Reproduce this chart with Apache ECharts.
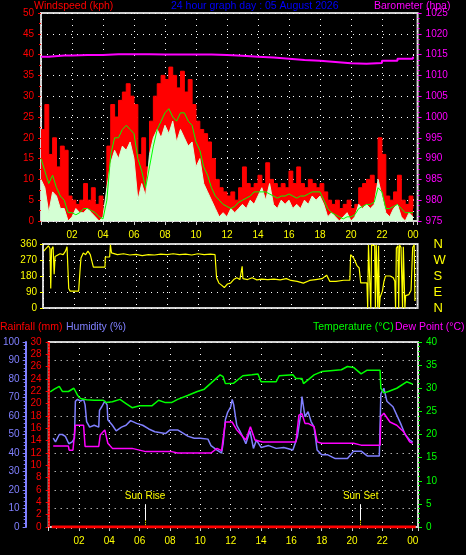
<!DOCTYPE html>
<html><head><meta charset="utf-8">
<script src="https://cdn.jsdelivr.net/npm/echarts@6/dist/echarts.min.js"></script>
<style>html,body{margin:0;padding:0;background:#000;}#c{width:466px;height:555px;}</style>
</head><body><div id="c"></div>
<script>
// ---- data ----
const hourLabels = ['02','04','06','08','10','12','14','16','18','20','22','00'];
// wind samples every 15 minutes from 00:00 to 24:00
const windGust = [22,28,16,20, 13,18,17,6, 5,4,5,9, 5,8,4,6, 3,18,28,25, 29,31,33,30, 28,16,20,13, 24,30,33,35,
  34,37,35,32, 36,31,34,28, 24,22,21,19, 15,10,8,7, 6,7,5,8, 13,9,8,9, 11,9,14,10, 9,8,9,8, 12,9,13,9,
  8,10,9,8, 9,7,5,4, 5,3,4,5, 3,4,8,9, 10,11,9,20, 16,6,5,7, 11,5,4,6, 3];
const windSpeed = [10,8,2,7, 6,3,3,0, 1,3,2,2, 3,2,1,0, 1,8,14,17, 15,18,17,19, 15,5,9,6, 16,20,22,20,
  23,21,24,19, 22,20,18,19, 13,15,9,7, 5,3,1,2, 1,3,2,3, 4,3,5,4, 6,8,5,9, 4,3,5,4, 5,3,4,3,
  5,4,6,5, 6,4,1,2, 1,0,1,2, 0,1,4,3, 4,3,4,10, 6,2,1,3, 4,1,0,2, 1];
const windAvg = [15,12,9,11, 8,6,5,2, 2,1.5,2,3, 3,2.5,2,1, 0.5,5,16,20, 20,22,23,22, 21,15,12,8, 13,18,22,24,
  26,27,25,24, 26,26,24,23, 19,17,13,11, 8,6,5,4, 3.5,3,3.5,4.5, 5,5.5,6,7, 7,7,7,6.5, 6,5.5,6,6, 6.5,6,5.5,6,
  6,6.5,7,7, 7,5,3,2, 1.5,1,0.5,1, 1,1.5,3,3.5, 4,4,4.5,8, 7,3,3,3.5, 4,3,2,2, 2];
const barometer = [[0,1014.5],[0.5,1014.8],[1.5,1014.8],[2,1014.9],[3,1014.9],[4,1015.1],[5,1015.1],[6,1015.1],
  [7,1015.0],[8,1015.0],[9,1015.0],[10,1015.0],[11,1014.9],[12,1014.7],[13,1014.5],[14,1014.3],[15,1014.0],
  [16,1013.7],[17,1013.5],[18,1013.2],[19,1012.9],[20,1012.8],[21,1013.0],[22,1013.5],[23,1014.0],[24,1014.5]];
const windDir = [[0.05,320],[0.2,335],[0.35,350],[0.45,335],[0.5,110],[0.55,330],[0.65,345],[0.72,190],[0.78,290],
  [0.9,300],[1.1,305],[1.3,300],[1.45,320],[1.55,345],[1.62,356],[1.66,110],[1.75,95],[2.0,95],[2.3,95],[2.38,200],
  [2.45,281],[2.6,310],[2.75,300],[2.9,320],[3.05,300],[3.15,310],[3.25,230],[3.6,230],[4.0,230],[4.02,287],[4.3,287],
  [4.35,356],[4.42,310],[4.8,300],[5.2,305],[5.6,298],[6.0,302],[6.4,295],[6.8,300],[7.2,298],[7.6,303],[8.0,300],
  [8.4,305],[8.8,300],[9.2,303],[9.6,298],[10.0,305],[10.4,300],[10.8,303],[11.1,300],[11.2,170],[11.35,140],
  [11.5,130],[11.7,115],[11.9,135],[12.1,140],[12.3,160],[12.5,170],[12.7,160],[12.85,234],[12.9,165],[13.2,160],
  [13.5,170],[13.8,158],[14.1,162],[14.5,160],[14.9,162],[15.3,158],[15.7,165],[16.0,155],[16.4,150],[16.8,140],
  [17.2,155],[17.6,160],[18.0,165],[18.3,185],[18.5,150],[18.9,150],[19.4,156],[19.8,156],[19.85,300],[20.05,280],
  [20.25,240],[20.4,225],[20.5,141],[20.9,141],[20.95,0],[21.0,355],[21.1,360],[21.15,0],[21.2,355],[21.3,360],
  [21.4,350],[21.45,0],[21.5,355],[21.6,5],[21.65,350],[21.7,0],[21.75,60],[21.9,95],[22.0,150],[22.1,180],
  [22.4,180],[22.6,170],[22.7,150],[22.75,0],[22.8,337],[22.9,350],[22.95,0],[23.0,355],[23.1,340],[23.2,0],
  [23.25,345],[23.35,0],[23.4,70],[23.6,75],[23.75,100],[23.85,340],[23.95,355],[24.0,40]];
const temperature = [[0.1,29.2],[0.37,29.8],[0.7,30.4],[0.9,29.3],[1.3,29.3],[1.66,30],[1.9,28.5],[2.1,27.8],
  [2.5,27.5],[3.0,27.4],[3.6,27.4],[3.8,26.9],[4.2,27.1],[4.7,27.6],[5.1,26.7],[5.5,25.8],[6.0,26.2],[6.8,26.2],
  [7.25,27.4],[7.7,26.9],[8.1,26.9],[8.5,27.6],[9.2,28.5],[9.8,29.3],[10.26,29.8],[10.7,31.1],[11.3,32.9],
  [11.5,32.5],[11.65,31.0],[12.2,31.1],[12.8,32.7],[13.4,32.9],[13.8,33.1],[14.0,31.4],[14.6,31.4],[15.0,31.4],
  [15.2,32.7],[16.1,32.9],[16.3,32.1],[16.7,32.1],[16.8,31],[17.1,31.8],[17.5,32.9],[18.0,33.6],[19.3,34],
  [19.7,34.7],[20.1,34.5],[20.6,33.1],[21.0,33.9],[21.85,33.9],[21.9,30],[22.1,29],[22.4,29.3],[22.95,30],
  [23.6,31.4],[24,30.9]];
const humidity = [[0.3,48],[0.45,46],[0.58,47],[0.7,50],[0.9,50],[1.1,49],[1.33,45],[1.45,44],[1.55,46],[1.7,48],
  [1.76,68],[1.9,69],[2.1,68],[2.3,69],[2.4,66],[2.5,57],[2.7,54],[3.0,55],[3.3,54],[3.35,63],[3.5,65],[3.7,68],
  [3.85,66],[3.9,58],[4.2,55],[4.45,52],[4.8,54],[5.1,55],[5.4,57.5],[5.8,56],[6.2,55],[6.6,53],[7.0,51.5],
  [7.4,51],[7.7,50.5],[8.0,52.5],[8.5,52.5],[8.8,51],[9.2,49],[9.6,48],[10.0,48],[10.5,47.5],[10.7,44],[11.1,41.6],
  [11.4,40],[11.5,45],[11.65,58],[11.8,62],[12.0,65],[12.1,69],[12.2,66],[12.4,55],[12.6,52],[12.8,48.8],[13.0,45],
  [13.27,52],[13.5,42.5],[13.7,47],[14.0,43],[14.5,44],[15.0,42.5],[15.5,43],[16.1,41.6],[16.4,48.8],[16.6,60],
  [16.7,70.5],[16.9,59.6],[17.1,62.3],[17.3,57],[17.5,54],[17.7,41.6],[18.0,39],[18.4,39],[18.9,37],[19.7,37],
  [20.1,41],[20.6,41],[21.0,38.4],[21.8,38.4],[21.9,72],[22.1,75],[22.3,68],[22.7,65],[23.2,56],[23.5,50],
  [23.8,47],[24,46]];
const dewPoint = [[0.3,17.5],[1.3,17.5],[1.35,16.6],[1.6,16.6],[1.76,22],[2.3,22],[2.4,17.4],[3.3,17.4],[3.4,19.9],
  [3.7,21],[3.9,18.1],[4.2,17],[5.5,17],[6.4,16.3],[8.1,16.3],[8.5,16],[10.7,16],[11.1,17],[11.4,16.5],[11.65,22.7],
  [12.1,22.7],[12.4,21],[12.8,19.5],[13.0,18.8],[13.3,21.7],[13.6,18.8],[14.1,18.4],[16.3,18.4],[16.5,24.2],
  [16.7,24.5],[16.9,22.4],[17.1,22.4],[17.5,21.7],[17.7,18.4],[18,18.1],[20.1,18.1],[20.6,17.7],[21.85,17.7],
  [21.9,23.9],[22.1,24.6],[22.5,22.7],[22.95,22],[23.4,20.6],[23.8,18.4],[24,18.1]];
const rainfall = [[0.2,0],[6,0],[12,0],[18,0],[24.2,0]];
const sunRise = 6.36, sunSet = 20.57;
const dirLabels = {0:'N',90:'E',180:'S',270:'W',360:'N'};

// ---- chart ----
const FONT = 'Liberation Sans';
const q = i => i * 0.25;
const pairs = arr => arr.map((v, i) => [q(i), v]);
const dots = {show:true, lineStyle:{color:'#ffffff', type:[1,5], width:1}};
const hourFmt = v => (v > 0 && v % 2 === 0 && v <= 24) ? hourLabels[v/2 - 1] : '';
const border = {show:true, borderColor:'#d0d0d0', borderWidth:2, backgroundColor:'#000'};

function xAxis(gi, showLabels, max) {
  return {type:'value', gridIndex:gi, min:0, max:max, interval:2,
    axisLine:{show:false},
    axisTick:{show:showLabels, length:4, lineStyle:{color:'#d0d0d0'}},
    minorTick:{show:showLabels, splitNumber:4, length:2, lineStyle:{color:'#d0d0d0'}},
    axisLabel:{show:showLabels, formatter:hourFmt, color:'#ffff00', fontFamily:FONT, fontSize:10, margin:9, hideOverlap:false},
    splitLine:dots};
}
const plain = v => String(v);

const chart = echarts.init(document.getElementById('c'), null, {renderer:'canvas'});
chart.setOption({
  backgroundColor:'#000',
  animation:false,
  grid:[
    Object.assign({left:41, top:13, width:376.6, height:208}, border),
    Object.assign({left:43, top:244, width:374.6, height:64}, border),
    Object.assign({left:44.3, top:342, width:373.7, height:185}, border)
  ],
  xAxis:[
    xAxis(0, true, 24.3),
    xAxis(1, false, 24.17),
    xAxis(2, true, 24.35)
  ],
  yAxis:[
    {type:'value', gridIndex:0, min:0, max:50, interval:5, position:'left',
      axisLine:{show:false}, axisTick:{show:true, length:3, lineStyle:{color:'#ff0000'}},
      minorTick:{show:true, splitNumber:2, length:2, lineStyle:{color:'#ff0000'}},
      axisLabel:{color:'#ff0000', fontFamily:FONT, fontSize:10, margin:7, formatter:plain}, splitLine:dots},
    {type:'value', gridIndex:0, min:975, max:1025, interval:5, position:'right',
      axisLine:{show:false}, axisTick:{show:true, length:4, lineStyle:{color:'#ff00ff'}},
      minorTick:{show:true, splitNumber:4, length:2, lineStyle:{color:'#ff00ff'}},
      axisLabel:{color:'#ff00ff', fontFamily:FONT, fontSize:10, margin:8, formatter:plain}, splitLine:{show:false}},
    {type:'value', gridIndex:1, min:0, max:360, interval:90, position:'left',
      axisLine:{show:false}, axisTick:{show:true, length:3, lineStyle:{color:'#ffff00'}},
      axisLabel:{color:'#ffff00', fontFamily:FONT, fontSize:10, margin:6, formatter:plain}, splitLine:dots},
    {type:'value', gridIndex:1, min:0, max:360, interval:90, position:'right',
      axisLine:{show:false}, axisTick:{show:false},
      axisLabel:{color:'#ffff00', fontFamily:FONT, fontSize:13, margin:16, formatter:v => dirLabels[v]}, splitLine:{show:false}},
    {type:'value', gridIndex:2, min:0, max:30, interval:2, position:'left',
      axisLine:{show:true, lineStyle:{color:'#ff0000', type:[1,2], width:2}}, axisTick:{show:true, length:3, lineStyle:{color:'#ff0000'}},
      axisLabel:{color:'#ff0000', fontFamily:FONT, fontSize:10, margin:7, formatter:plain}, splitLine:{show:false}},
    {type:'value', gridIndex:2, min:0, max:100, interval:10, position:'left', offset:23,
      axisLine:{show:true, lineStyle:{color:'#8080ff', width:2}}, axisTick:{show:true, length:3, lineStyle:{color:'#8080ff'}},
      minorTick:{show:true, splitNumber:5, length:2, lineStyle:{color:'#8080ff'}},
      axisLabel:{color:'#8080ff', fontFamily:FONT, fontSize:10, margin:6, formatter:plain}, splitLine:dots},
    {type:'value', gridIndex:2, min:0, max:40, interval:5, position:'right',
      axisLine:{show:false}, axisTick:{show:true, length:4, lineStyle:{color:'#00ff00'}},
      minorTick:{show:true, splitNumber:5, length:2, lineStyle:{color:'#00ff00'}},
      axisLabel:{color:'#00ff00', fontFamily:FONT, fontSize:10, margin:8, formatter:plain}, splitLine:{show:false}}
  ],
  series:[
    {name:'Gust', type:'line', xAxisIndex:0, yAxisIndex:0, step:'end', data:pairs(windGust), showSymbol:false,
      lineStyle:{color:'#ff0000', width:1}, areaStyle:{color:'#ff0000', opacity:1}, z:2},
    {name:'Speed', type:'line', xAxisIndex:0, yAxisIndex:0, data:pairs(windSpeed), showSymbol:false,
      lineStyle:{color:'#d4ffd4', width:1}, areaStyle:{color:'#d4ffd4', opacity:1}, z:3},
    {name:'Average', type:'line', xAxisIndex:0, yAxisIndex:0, data:pairs(windAvg), showSymbol:false,
      lineStyle:{color:'#00ff00', width:1}, z:4},
    {name:'Barometer', type:'line', xAxisIndex:0, yAxisIndex:1, step:'end', data:barometer, showSymbol:false,
      lineStyle:{color:'#ff00ff', width:2}, z:5},
    {name:'Direction', type:'line', xAxisIndex:1, yAxisIndex:2, data:windDir, showSymbol:false,
      lineStyle:{color:'#ffff00', width:1.2}, z:5},
    {name:'Rainfall', type:'line', xAxisIndex:2, yAxisIndex:4, data:rainfall, showSymbol:false,
      lineStyle:{color:'#ff0000', width:3}, z:6,
      markLine:{symbol:'none', silent:true, animation:false,
        data:[
          [{coord:[sunRise,3.7], lineStyle:{color:'#ffffff', type:'solid', width:1},
            label:{show:true, position:'start', formatter:'Sun Rise', color:'#ffff00', fontFamily:FONT, fontSize:10, distance:3}},
           {coord:[sunRise,1.1]}],
          [{coord:[sunRise,1.1], lineStyle:{color:'#ffff00', type:[1,1], width:1}, label:{show:false}}, {coord:[sunRise,0]}],
          [{coord:[sunSet,3.7], lineStyle:{color:'#ffffff', type:'solid', width:1},
            label:{show:true, position:'start', formatter:'Sun Set', color:'#ffff00', fontFamily:FONT, fontSize:10, distance:3}},
           {coord:[sunSet,1.1]}],
          [{coord:[sunSet,1.1], lineStyle:{color:'#ffff00', type:[1,1], width:1}, label:{show:false}}, {coord:[sunSet,0]}]
        ]}},
    {name:'Humidity', type:'line', xAxisIndex:2, yAxisIndex:5, data:humidity, showSymbol:false,
      lineStyle:{color:'#8080ff', width:1.5}, z:4},
    {name:'Temperature', type:'line', xAxisIndex:2, yAxisIndex:6, data:temperature, showSymbol:false,
      lineStyle:{color:'#00ff00', width:1.5}, z:4},
    {name:'Dew Point', type:'line', xAxisIndex:2, yAxisIndex:6, data:dewPoint, showSymbol:false,
      lineStyle:{color:'#ff00ff', width:1.5}, z:5}
  ],
  graphic:[
    {type:'text', left:34, top:1, style:{text:'Windspeed (kph)', fill:'#ff0000', font:'10.5px '+FONT}},
    {type:'text', left:171, top:1, style:{text:'24 hour graph day : 05 August 2026', fill:'#0000ff', font:'10.5px '+FONT}},
    {type:'text', left:374, top:1, style:{text:'Barometer (hpa)', fill:'#ff00ff', font:'10.5px '+FONT}},
    {type:'text', left:0, top:322, style:{text:'Rainfall (mm)', fill:'#ff0000', font:'10.5px '+FONT}},
    {type:'text', left:66, top:322, style:{text:'Humidity (%)', fill:'#8080ff', font:'10.5px '+FONT}},
    {type:'text', left:313, top:322, style:{text:'Temperature (°C)', fill:'#00ff00', font:'10.5px '+FONT}},
    {type:'text', left:395, top:322, style:{text:'Dew Point (°C)', fill:'#ff00ff', font:'10.5px '+FONT}}
  ]
});
</script></body></html>
